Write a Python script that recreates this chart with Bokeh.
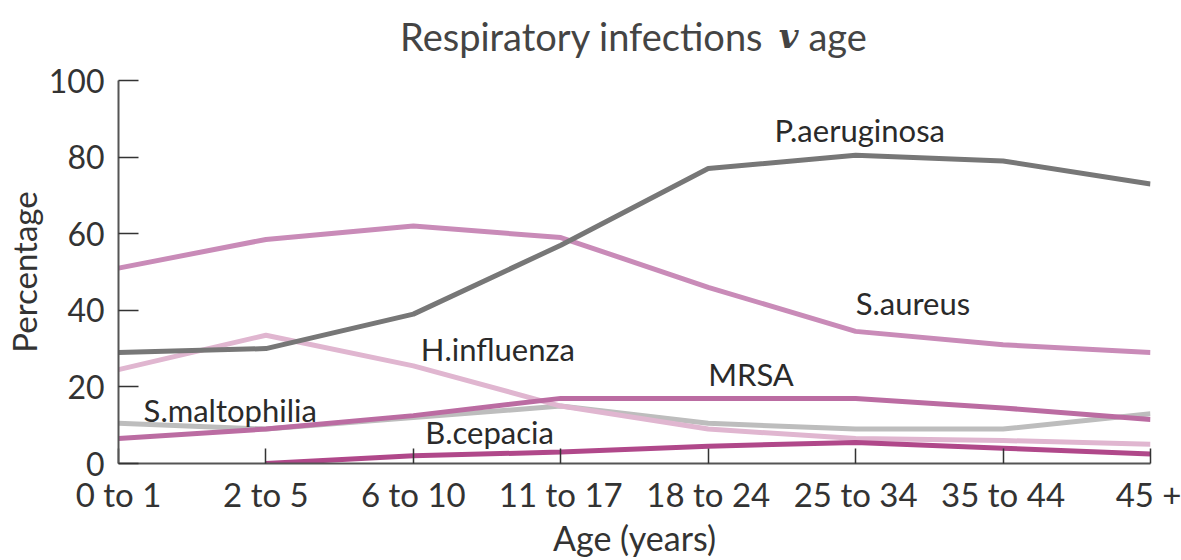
from bokeh.plotting import figure
from bokeh.layouts import column
from bokeh.models import Range1d, FixedTicker, Label
from bokeh.embed import file_html
from bokeh.resources import INLINE

# ---- data ----
ages = ["0 to 1", "2 to 5", "6 to 10", "11 to 17", "18 to 24", "25 to 34", "35 to 44", "45 +"]
p_aeruginosa = [29, 30, 39, 57, 77, 80.5, 79, 73]
s_aureus = [51, 58.5, 62, 59, 46, 34.5, 31, 29]
h_influenza = [24.5, 33.5, 25.5, 15, 9, 6.5, 6, 5]
mrsa = [6.5, 9, 12.5, 17, 17, 17, 14.5, 11.5]
s_maltophilia = [10.5, 9, 12, 15, 10.5, 9, 9, 13]
b_cepacia = [float("nan"), 0, 2, 3, 4.5, 5.5, 4, 2.5]
y_ticks = [0, 20, 40, 60, 80, 100]

series_values = [s_maltophilia, h_influenza, b_cepacia, mrsa, s_aureus, p_aeruginosa]
series_colors = ["#bdbdbd", "#e0b6d0", "#b0488a", "#bb6ca2", "#c98bb8", "#777777"]

# label anchors (x index, y value) for the in-chart series names
label_text = ["P.aeruginosa", "S.aureus", "MRSA", "H.influenza", "S.maltophilia", "B.cepacia"]
label_x = [4.45, 5.0, 4.0, 2.05, 0.17, 2.08]
label_y = [87, 42, 23.4, 30, 14, 8.3]

FONT = "Lato"
TXT = "#333333"
W = 1181
LEFT, RIGHT = 118, 31

xs = list(range(len(ages)))

# ---- title strip (own small figure sharing the same x mapping) ----
t = figure(width=W, height=60, x_range=Range1d(0, len(ages) - 1), y_range=Range1d(0, 60),
           x_axis_type=None, y_axis_type=None,
           output_backend="svg", toolbar_location=None,
           min_border_left=LEFT, min_border_right=RIGHT, min_border_top=0, min_border_bottom=0)
t.grid.visible = False
t.outline_line_color = None
t.add_layout(Label(x=4.375, y=25, text="Respiratory infections", text_font=FONT,
                   text_font_size="38px", text_color="#444444",
                   text_baseline="middle", text_align="right"))
t.add_layout(Label(x=4.545, y=25, text="v", text_font="DejaVu Serif",
                   text_font_size="34px", text_font_style="bold italic",
                   text_color="#444444", text_baseline="middle", text_align="center"))
t.add_layout(Label(x=4.68, y=25, text="age", text_font=FONT,
                   text_font_size="38px", text_color="#444444",
                   text_baseline="middle", text_align="left"))

# ---- main chart ----
p = figure(width=W, height=500,
           x_range=Range1d(0, len(ages) - 1), y_range=Range1d(0, 100),
           output_backend="svg", toolbar_location=None,
           min_border_left=LEFT, min_border_right=RIGHT,
           min_border_top=20, min_border_bottom=95)

p.grid.visible = False
p.outline_line_color = None

for vals, col in zip(series_values, series_colors):
    p.line(xs, vals, line_color=col, line_width=5)

xa = p.xaxis[0]
xa.ticker = FixedTicker(ticks=xs)
xa.major_label_overrides = {i: a for i, a in zip(xs, ages)}
xa.minor_tick_line_color = None
xa.major_tick_in = 15
xa.major_tick_out = 0
xa.major_tick_line_color = "#333333"
xa.major_tick_line_width = 1.5
xa.axis_line_color = "#555555"
xa.axis_line_width = 2
xa.major_label_text_font = FONT
xa.major_label_text_font_size = "33px"
xa.major_label_text_color = TXT
xa.major_label_standoff = 10
xa.axis_label = "Age (years)"
xa.axis_label_text_font = FONT
xa.axis_label_text_font_size = "34px"
xa.axis_label_text_font_style = "normal"
xa.axis_label_text_color = TXT
xa.axis_label_standoff = 0

ya = p.yaxis[0]
ya.ticker = FixedTicker(ticks=y_ticks)
ya.minor_tick_line_color = None
ya.major_tick_in = 20
ya.major_tick_out = 0
ya.major_tick_line_color = "#333333"
ya.major_tick_line_width = 1.5
ya.axis_line_color = "#555555"
ya.axis_line_width = 2
ya.major_label_text_font = FONT
ya.major_label_text_font_size = "32px"
ya.major_label_text_color = TXT
ya.major_label_standoff = 14
ya.axis_label = "Percentage"
ya.axis_label_text_font = FONT
ya.axis_label_text_font_size = "33px"
ya.axis_label_text_font_style = "normal"
ya.axis_label_text_color = TXT
ya.axis_label_standoff = 2

for txt, lx, ly in zip(label_text, label_x, label_y):
    p.add_layout(Label(x=lx, y=ly, text=txt, text_font=FONT, text_font_size="31px",
                       text_color="#2a2a2a", text_baseline="middle", text_align="left"))

layout = column(t, p, spacing=0)
open("out.html", "w").write(file_html(layout, INLINE))
